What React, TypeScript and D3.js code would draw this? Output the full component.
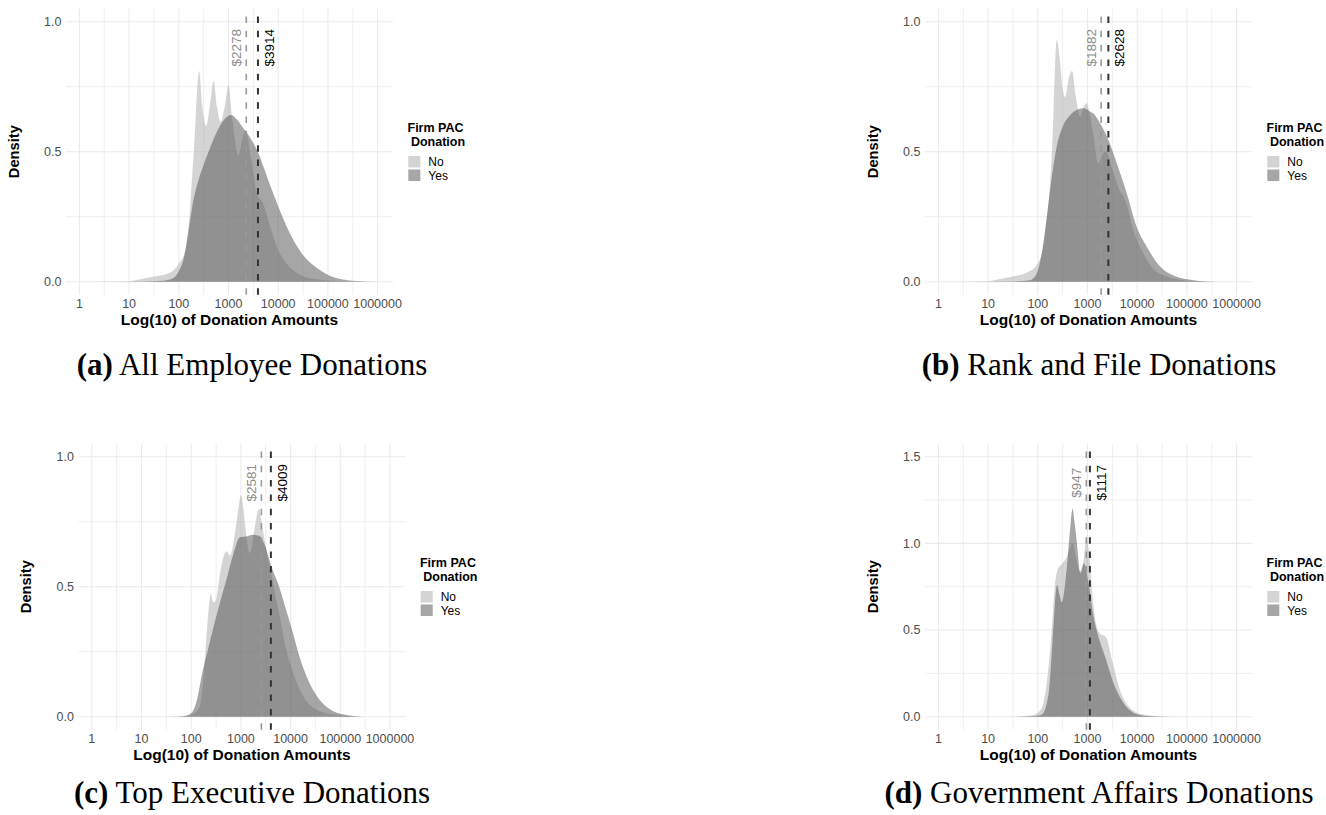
import React from "react";
import * as d3 from "d3";

type Pt = [number, number]; // [log10 of donation amount, density]

const xTickValues = [1, 10, 100, 1000, 10000, 100000, 1000000];
const groupNames = ["No", "Yes"];
const captionLetters = ["(a)", "(b)", "(c)", "(d)"];
const captionTitles = [
  "All Employee Donations",
  "Rank and File Donations",
  "Top Executive Donations",
  "Government Affairs Donations",
];
const medianNo = [2278, 1882, 2581, 947];
const medianYes = [3914, 2628, 4009, 1117];
const yMaxes = [1, 1, 1, 1.5];
const yTickSets = [
  [0, 0.5, 1],
  [0, 0.5, 1],
  [0, 0.5, 1],
  [0, 0.5, 1, 1.5],
];

// (a) all employees
const allNo: Pt[] = [
  [0.3, 0], [1.0, 0.002], [1.3, 0.012], [1.5, 0.02], [1.75, 0.03], [1.9, 0.045],
  [2.0, 0.07], [2.13, 0.12], [2.2, 0.22], [2.26, 0.38], [2.32, 0.56], [2.37, 0.74],
  [2.41, 0.81], [2.47, 0.68], [2.55, 0.6], [2.64, 0.7], [2.7, 0.772], [2.77, 0.67],
  [2.84, 0.615], [2.93, 0.68], [3.0, 0.756], [3.08, 0.62], [3.2, 0.487], [3.28, 0.55],
  [3.35, 0.583], [3.45, 0.48], [3.57, 0.34], [3.7, 0.3], [3.84, 0.21], [3.97, 0.135],
  [4.17, 0.07], [4.44, 0.026], [4.78, 0.009], [5.11, 0.003], [5.5, 0],
];
const allYes: Pt[] = [
  [0.5, 0], [1.3, 0.001], [1.7, 0.004], [1.9, 0.015], [2.0, 0.04], [2.1, 0.09],
  [2.2, 0.2], [2.28, 0.3], [2.38, 0.38], [2.5, 0.45], [2.62, 0.51], [2.75, 0.57],
  [2.88, 0.615], [3.0, 0.638], [3.05, 0.641], [3.15, 0.628], [3.3, 0.59], [3.45, 0.55],
  [3.6, 0.495], [3.8, 0.39], [4.0, 0.29], [4.2, 0.2], [4.45, 0.115], [4.8, 0.05],
  [5.1, 0.018], [5.5, 0.004], [6.0, 0],
];

// (b) rank and file
const rankNo: Pt[] = [
  [0.5, 0], [1.0, 0.002], [1.3, 0.012], [1.5, 0.02], [1.78, 0.035], [1.98, 0.064],
  [2.11, 0.135], [2.21, 0.29], [2.3, 0.57], [2.34, 0.8], [2.38, 0.93], [2.44, 0.86],
  [2.5, 0.74], [2.55, 0.71], [2.62, 0.78], [2.69, 0.81], [2.76, 0.72], [2.85, 0.635],
  [2.92, 0.67], [2.98, 0.686], [3.05, 0.64], [3.12, 0.56], [3.22, 0.455], [3.3, 0.49],
  [3.37, 0.5], [3.52, 0.42], [3.65, 0.35], [3.72, 0.33], [3.8, 0.29], [3.92, 0.2],
  [4.12, 0.11], [4.32, 0.05], [4.59, 0.02], [4.93, 0.006], [5.4, 0],
];
const rankYes: Pt[] = [
  [0.5, 0], [1.4, 0.001], [1.84, 0.006], [1.98, 0.032], [2.08, 0.11], [2.18, 0.25],
  [2.28, 0.4], [2.38, 0.52], [2.51, 0.6], [2.65, 0.64], [2.78, 0.66], [2.92, 0.667],
  [3.05, 0.655], [3.12, 0.647], [3.25, 0.61], [3.42, 0.545], [3.59, 0.455], [3.79, 0.34],
  [3.99, 0.21], [4.19, 0.135], [4.46, 0.058], [4.79, 0.019], [5.13, 0.006], [5.6, 0],
];

// (c) top executives
const execNo: Pt[] = [
  [1.5, 0], [1.91, 0.003], [2.04, 0.01], [2.17, 0.04], [2.22, 0.1], [2.27, 0.21],
  [2.34, 0.39], [2.39, 0.47], [2.45, 0.44], [2.5, 0.45], [2.58, 0.55], [2.66, 0.62],
  [2.71, 0.635], [2.78, 0.62], [2.88, 0.706], [2.95, 0.8], [3.0, 0.853], [3.05, 0.8],
  [3.09, 0.73], [3.18, 0.63], [3.28, 0.73], [3.36, 0.8], [3.44, 0.72], [3.55, 0.6],
  [3.62, 0.54], [3.7, 0.46], [3.78, 0.386], [3.91, 0.26], [4.05, 0.17], [4.25, 0.08],
  [4.52, 0.028], [4.85, 0.009], [5.3, 0],
];
const execYes: Pt[] = [
  [1.5, 0], [1.77, 0.001], [1.91, 0.005], [2.01, 0.015], [2.11, 0.06], [2.21, 0.156],
  [2.34, 0.26], [2.47, 0.36], [2.61, 0.46], [2.74, 0.55], [2.84, 0.62], [2.98, 0.69],
  [3.11, 0.693], [3.24, 0.7], [3.38, 0.694], [3.48, 0.66], [3.61, 0.58], [3.75, 0.51],
  [3.91, 0.41], [4.05, 0.32], [4.18, 0.23], [4.38, 0.13], [4.58, 0.066], [4.85, 0.022],
  [5.18, 0.005], [5.6, 0],
];

// (d) government affairs
const govNo: Pt[] = [
  [1.5, 0], [1.91, 0.01], [2.08, 0.05], [2.18, 0.196], [2.28, 0.5], [2.34, 0.75],
  [2.4, 0.85], [2.48, 0.88], [2.58, 0.92], [2.66, 0.98], [2.7, 1.0], [2.76, 0.93],
  [2.84, 0.84], [2.92, 0.9], [2.98, 1.04], [3.04, 0.92], [3.1, 0.7], [3.16, 0.55],
  [3.25, 0.48], [3.37, 0.46], [3.49, 0.33], [3.65, 0.157], [3.85, 0.052], [4.12, 0.013],
  [4.46, 0.002], [4.8, 0],
];
const govYes: Pt[] = [
  [1.5, 0], [1.9, 0.003], [2.08, 0.013], [2.21, 0.12], [2.31, 0.5], [2.35, 0.68],
  [2.39, 0.76], [2.44, 0.7], [2.48, 0.66], [2.58, 0.85], [2.64, 1.05], [2.7, 1.2],
  [2.74, 1.12], [2.78, 1.02], [2.86, 0.83], [2.93, 0.886], [3.02, 0.77], [3.12, 0.58],
  [3.22, 0.46], [3.35, 0.35], [3.52, 0.196], [3.72, 0.08], [3.92, 0.023], [4.19, 0.004],
  [4.6, 0],
];

const noSeries = [allNo, rankNo, execNo, govNo];
const yesSeries = [allYes, rankYes, execYes, govYes];

// layout of each plot area and caption
const W = 327;
const H = 286;
const panelBoxes = [
  { left: 66, top: 8.7, capX: 252, capY: 375 },
  { left: 925, top: 8.7, capX: 1099, capY: 375 },
  { left: 78.4, top: 443.7, capX: 252, capY: 803 },
  { left: 925, top: 443.7, capX: 1099, capY: 803 },
];

const fills = ["#a9a9a9", "#4d4d4d"];
const lineColors = ["#999999", "#333333"];
const textColors = ["#8c8c8c", "#000000"];
const sans = "'Liberation Sans', Arial, Helvetica, sans-serif";
const serif = "'Liberation Serif', 'Times New Roman', serif";

function Panel({ i }: { i: number }) {
  const { left, top, capX, capY } = panelBoxes[i];
  const yMax = yMaxes[i];
  const x = d3.scaleLinear().domain([-0.27, 6.31]).range([0, W]);
  const y = d3
    .scaleLinear()
    .domain([-0.05 * yMax, 1.05 * yMax])
    .range([H, 0]);

  const area = d3
    .area<Pt>()
    .x((d) => x(d[0]))
    .y0(y(0))
    .y1((d) => y(d[1]))
    .curve(d3.curveMonotoneX);

  const majorX = xTickValues.map((v) => Math.log10(v));
  const minorX = majorX.slice(1).map((v) => v - 0.5);
  const yTicks = yTickSets[i];
  const minorY = yTicks.slice(1).map((v) => v - 0.25);
  const medians = [medianNo[i], medianYes[i]];
  const series = [noSeries[i], yesSeries[i]];

  return (
    <g>
      <g transform={`translate(${left},${top})`}>
        {/* grid */}
        {minorY.map((v) => (
          <line key={"my" + v} x1={0} x2={W} y1={y(v)} y2={y(v)} stroke="#ebebeb" strokeWidth={0.8} />
        ))}
        {minorX.map((v) => (
          <line key={"mx" + v} x1={x(v)} x2={x(v)} y1={0} y2={H} stroke="#ebebeb" strokeWidth={0.8} />
        ))}
        {yTicks.map((v) => (
          <line key={"gy" + v} x1={0} x2={W} y1={y(v)} y2={y(v)} stroke="#ebebeb" strokeWidth={1.1} />
        ))}
        {majorX.map((v) => (
          <line key={"gx" + v} x1={x(v)} x2={x(v)} y1={0} y2={H} stroke="#ebebeb" strokeWidth={1.1} />
        ))}

        {/* densities */}
        {series.map((s, k) => (
          <path key={"a" + k} d={area(s) || ""} fill={fills[k]} fillOpacity={0.5} stroke="none" />
        ))}

        {/* median lines */}
        {medians.map((m, k) => (
          <line
            key={"v" + k}
            x1={x(Math.log10(m))}
            x2={x(Math.log10(m))}
            y1={H}
            y2={0}
            stroke={lineColors[k]}
            strokeWidth={k === 0 ? 1.6 : 2}
            strokeDasharray="6.5,7.8"
          />
        ))}
        {medians.map((m, k) => {
          const bx = x(Math.log10(m)) + (k === 0 ? -5 : 16);
          const by = y(0.9 * yMax);
          return (
            <text
              key={"t" + k}
              transform={`translate(${bx},${by}) rotate(-90)`}
              textAnchor="middle"
              fontFamily={sans}
              fontSize={13.5}
              fill={textColors[k]}
            >
              {"$" + m}
            </text>
          );
        })}

        {/* axes text */}
        {yTicks.map((v) => (
          <text
            key={"yl" + v}
            x={-4.5}
            y={y(v) + 4.4}
            textAnchor="end"
            fontFamily={sans}
            fontSize={12.5}
            fill="#4d4d4d"
          >
            {d3.format(".1f")(v)}
          </text>
        ))}
        {xTickValues.map((v) => (
          <text
            key={"xl" + v}
            x={x(Math.log10(v))}
            y={H + 13}
            textAnchor="middle"
            fontFamily={sans}
            fontSize={12.5}
            fill="#4d4d4d"
          >
            {String(v)}
          </text>
        ))}
        <text
          x={W / 2}
          y={H + 30.5}
          textAnchor="middle"
          fontFamily={sans}
          fontSize={15.5}
          fontWeight="bold"
          fill="#000"
        >
          Log(10) of Donation Amounts
        </text>
        <text
          transform={`translate(${-47},${H / 2}) rotate(-90)`}
          textAnchor="middle"
          fontFamily={sans}
          fontSize={14.7}
          fontWeight="bold"
          fill="#000"
        >
          Density
        </text>

        {/* legend */}
        <g transform={`translate(${W + 14.5},0)`}>
          <text x={0} y={123} fontFamily={sans} fontSize={12.5} fontWeight="bold" fill="#000">
            Firm PAC
          </text>
          <text x={3.4} y={137.8} fontFamily={sans} fontSize={12.5} fontWeight="bold" fill="#000">
            Donation
          </text>
          {groupNames.map((g, k) => (
            <g key={g} transform={`translate(0.8,${147.3 + k * 13.5})`}>
              <rect width={12} height={11.5} fill={fills[k]} fillOpacity={0.5} />
              <text x={20} y={10} fontFamily={sans} fontSize={12} fill="#000">
                {g}
              </text>
            </g>
          ))}
        </g>
      </g>

      <text x={capX} y={capY} textAnchor="middle" fontFamily={serif} fontSize={31} fill="#000">
        <tspan fontWeight="bold">{captionLetters[i]}</tspan>
        {" " + captionTitles[i]}
      </text>
    </g>
  );
}

export default function App() {
  return (
    <svg
      width={1326}
      height={815}
      style={{ position: "absolute", left: 0, top: 0, background: "#fff" }}
    >
      {[0, 1, 2, 3].map((i) => (
        <Panel key={i} i={i} />
      ))}
    </svg>
  );
}
